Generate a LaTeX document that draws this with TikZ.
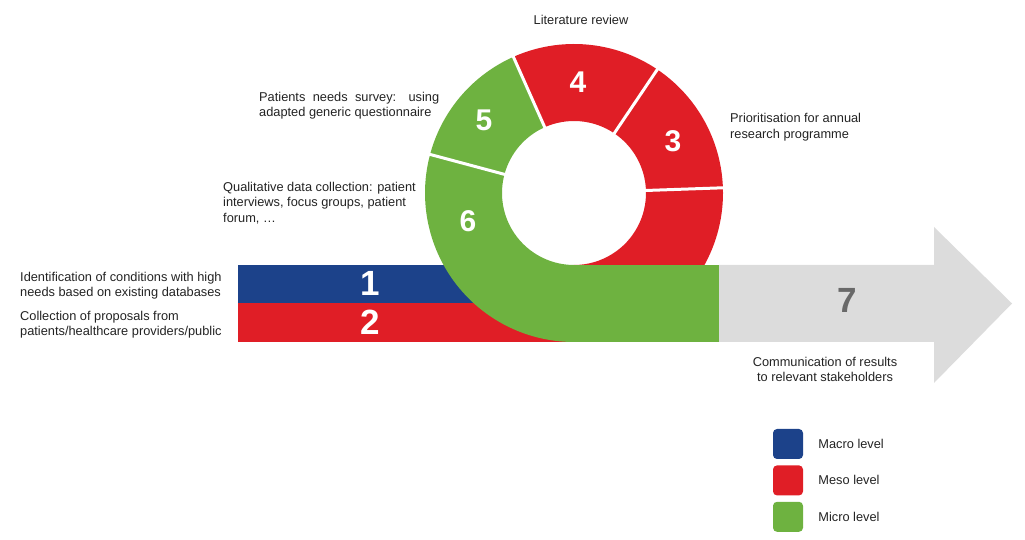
\documentclass[tikz,border=0pt]{standalone}
\usepackage{fontspec}
\setmainfont{Liberation Sans}
\usepackage{tikz}
\usetikzlibrary{positioning}
\usepackage{xcolor}
\definecolor{macroblue}{RGB}{28,66,138}
\definecolor{mesored}{RGB}{224,30,38}
\definecolor{microgreen}{RGB}{110,178,64}
\definecolor{arrowgray}{RGB}{220,220,220}
\definecolor{numgray}{RGB}{105,105,105}
\definecolor{txtgray}{RGB}{35,35,35}

\begin{document}
\begin{tikzpicture}[x=1pt, y=1pt,
    num/.style={font=\fontsize{30}{30}\selectfont\bfseries, text=white, inner sep=0pt},
    bignum/.style={num, font=\fontsize{35}{35}\selectfont\bfseries},
    txt/.style={font=\fontsize{12.8}{15.5}\selectfont, text=txtgray, inner sep=0pt},
    legbox/.style={minimum size=30pt, rounded corners=4pt, inner sep=0pt}]
            \useasboundingbox (0,0) rectangle (1025,540);
            \fill[macroblue] (238,237) rectangle (574,275);
            \fill[mesored] (238,198) rectangle (574,237);
            \fill[arrowgray] (719,198) -- (934,198) -- (934,157) -- (1012,236.5) -- (934,313) -- (934,275) -- (719,275) -- cycle;
            \coordinate (c) at (574,347);
            \foreach \a/\b/\col in {-90/2/mesored, 2/56/mesored, 56/114/mesored, 114/165/microgreen, 165/270/microgreen}
                \fill[\col] ([shift={(\a:149)}]c) arc[start angle=\a, end angle=\b, radius=149]
                    -- ([shift={(\b:72)}]c) arc[start angle=\b, end angle=\a, radius=72] -- cycle;
            \fill[microgreen] (574,198) rectangle (719,275);
            \foreach \a in {2,56,114,165}
                \draw[white, line width=3pt] ([shift={(\a:71)}]c) -- ([shift={(\a:150)}]c);
            \node[bignum] (n1) at (370,257) {1};
            \node[bignum] (n2) at (370,218) {2};
            \node[num] (n3) at (673,399) {3};
            \node[num] (n4) at (578,458) {4};
            \node[num] (n5) at (484,420) {5};
            \node[num] (n6) at (468,319) {6};
            \node[bignum, text=numgray] (n7) at (847,240) {7};
            \node[txt] (lit) at (581,520) {Literature review};
            \node[txt, anchor=west, align=left] (prio) at (730,413) {Prioritisation for annual\\research programme};
            \node[txt, anchor=west, text width=180pt, align=justify] (survey) at (259,434.5) {Patients needs survey: using adapted generic questionnaire};
            \node[txt, anchor=west, align=left] (qual) at (223,337) {Qualitative data collection: patient\\interviews, focus groups, patient\\forum, \dots};
            \node[txt, anchor=west, align=left] (ident) at (20,254.5) {Identification of conditions with high\\needs based on existing databases};
            \node[txt, anchor=west, align=left] (coll) at (20,215.5) {Collection of proposals from\\patients/healthcare providers/public};
            \node[txt, align=center] (comm) at (825,170.5) {Communication of results\\to relevant stakeholders};
            \node[legbox, fill=macroblue] (lmacro) at (788,96) {};
            \node[legbox, fill=mesored, below=6pt of lmacro] (lmeso) {};
            \node[legbox, fill=microgreen, below=6pt of lmeso] (lmicro) {};
            \node[txt, right=15pt of lmacro] (tmacro) {Macro level};
            \node[txt, right=15pt of lmeso] (tmeso) {Meso level};
            \node[txt, right=15pt of lmicro] (tmicro) {Micro level};
        \end{tikzpicture}
\end{document}
